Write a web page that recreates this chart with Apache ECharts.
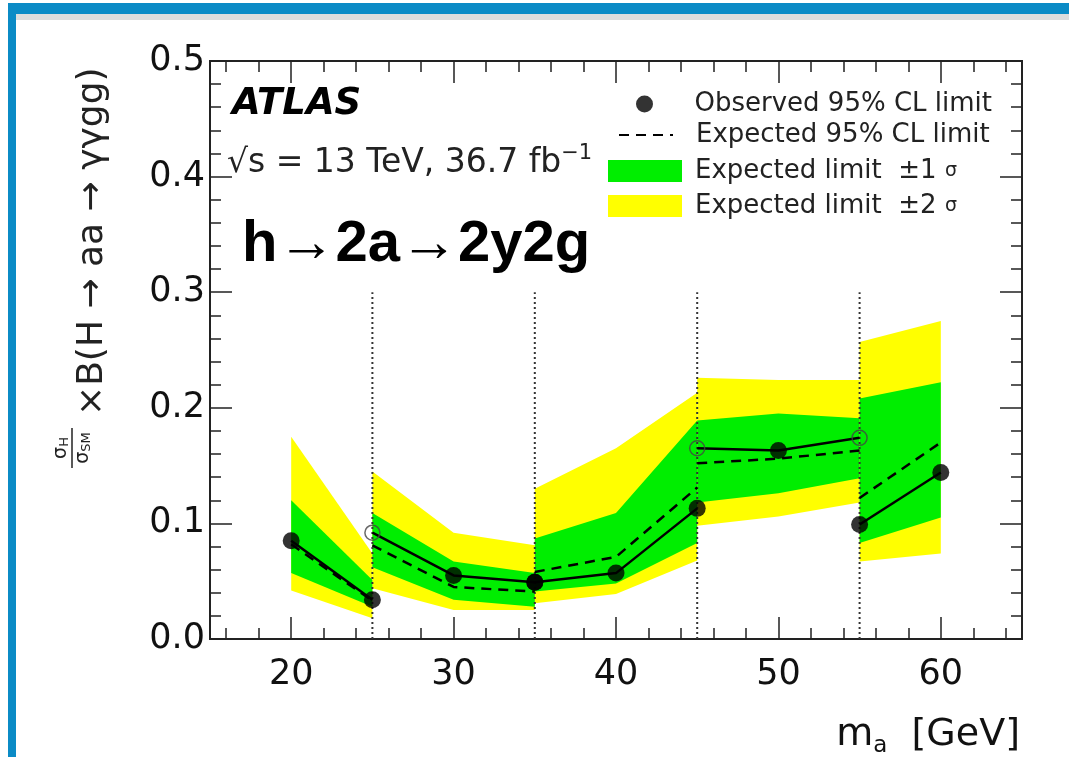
<!DOCTYPE html>
<html>
<head>
<meta charset="utf-8">
<script src="https://cdn.jsdelivr.net/npm/echarts@6/dist/echarts.min.js"></script>
<style>
  html, body { margin: 0; padding: 0; background: #fff; }
  #chart { width: 1069px; height: 757px; }
</style>
</head>
<body>
<div id="chart"></div>
<script>
  // mass points of each fit range, m_a in GeV
  const segMass = [[20, 25], [25, 30, 35], [35, 40, 45], [45, 50, 55], [55, 60]];
  const observed = [[0.085, 0.034], [0.092, 0.055, 0.049], [0.049, 0.057, 0.113], [0.165, 0.163, 0.174], [0.099, 0.144]];
  const obsOpen = [[0, 0], [1, 0, 0], [0, 0, 0], [1, 0, 1], [0, 0]];
  const expected = [[0.082, 0.033], [0.081, 0.045, 0.041], [0.058, 0.071, 0.131], [0.152, 0.156, 0.163], [0.122, 0.170]];
  const sig1Lo = [[0.057, 0.028], [0.062, 0.034, 0.028], [0.041, 0.048, 0.083], [0.118, 0.126, 0.139], [0.083, 0.105]];
  const sig1Hi = [[0.120, 0.051], [0.109, 0.067, 0.057], [0.087, 0.109, 0.189], [0.189, 0.195, 0.191], [0.208, 0.222]];
  const sig2Lo = [[0.042, 0.018], [0.044, 0.025, 0.025], [0.031, 0.039, 0.068], [0.098, 0.106, 0.118], [0.067, 0.074]];
  const sig2Hi = [[0.175, 0.074], [0.145, 0.092, 0.081], [0.130, 0.165, 0.213], [0.226, 0.224, 0.224], [0.257, 0.275]];
  const boundaries = [25, 35, 45, 55];
  const boundaryTop = 0.3;
  const xMajor = [20, 30, 40, 50, 60];
  const xMinor = [16, 18, 22, 24, 26, 28, 32, 34, 36, 38, 42, 44, 46, 48, 52, 54, 56, 58, 62, 64];
  const names = ['Observed 95% CL limit', 'Expected 95% CL limit', 'Expected limit  ±1 σ', 'Expected limit  ±2 σ'];

  const FONT = 'DejaVu Sans';

  function band(name, lo, hi, color) {
    return {
      name: name,
      type: 'custom',
      z: 1,
      itemStyle: { color: color },
      data: segMass.map(ms => [ms[0], 0]),
      renderItem: function (params, api) {
        let i = params.dataIndex;
        let ms = segMass[i];
        let top = ms.map((m, k) => api.coord([m, hi[i][k]]));
        let bot = ms.map((m, k) => api.coord([m, lo[i][k]])).reverse();
        return {
          type: 'polygon',
          shape: { points: top.concat(bot) },
          style: { fill: color }
        };
      }
    };
  }

  let series = [];
  series.push(band(names[3], sig2Lo, sig2Hi, '#ffff00'));
  series.push(band(names[2], sig1Lo, sig1Hi, '#00ee00'));

  boundaries.forEach(b => {
    series.push({
      type: 'line', z: 3, symbol: 'none', silent: true,
      data: [[b, 0], [b, boundaryTop]],
      lineStyle: { color: '#333', width: 2, type: [2, 3] }
    });
  });

  segMass.forEach((ms, i) => {
    series.push({
      name: i === 0 ? names[1] : undefined,
      type: 'line', z: 4, symbol: 'none',
      itemStyle: { color: '#000' },
      data: ms.map((m, k) => [m, expected[i][k]]),
      lineStyle: { color: '#000', width: 2.5, type: [10, 7] }
    });
    series.push({
      type: 'line', z: 5, symbol: 'none',
      data: ms.map((m, k) => [m, observed[i][k]]),
      lineStyle: { color: '#000', width: 2.5 }
    });
  });

  let filled = [], hollow = [];
  segMass.forEach((ms, i) => {
    ms.forEach((m, k) => {
      (obsOpen[i][k] ? hollow : filled).push([m, observed[i][k]]);
    });
  });
  series.push({
    name: names[0], type: 'scatter', z: 6, symbol: 'circle', symbolSize: 17,
    itemStyle: { color: '#000' }, data: filled
  });
  series.push({
    type: 'scatter', z: 6, symbol: 'circle', symbolSize: 15,
    itemStyle: { color: 'transparent', borderColor: '#444', borderWidth: 1.5 }, data: hollow
  });

  // two axes per side: one for the long ticks (and labels), one for the short ones
  function xAx(pos, ticks, len, labels) {
    return {
      type: 'value', min: 15, max: 65, position: pos,
      axisLine: { onZero: false, lineStyle: { color: '#222', width: 2 } },
      axisTick: { inside: true, length: len, customValues: ticks, lineStyle: { color: '#222', width: 1.5 } },
      axisLabel: {
        show: labels, fontSize: 35, color: '#111', margin: 18, fontFamily: FONT,
        customValues: xMajor
      },
      splitLine: { show: false }
    };
  }
  function yAx(pos) {
    return {
      type: 'value', min: 0, max: 0.5, interval: 0.1, position: pos,
      axisLine: { show: true, onZero: false, lineStyle: { color: '#222', width: 2 } },
      axisTick: { show: true, inside: true, length: 22, lineStyle: { color: '#222', width: 1.5 } },
      minorTick: { show: true, splitNumber: 5, length: 11, lineStyle: { color: '#222', width: 1.5 } },
      axisLabel: {
        show: pos === 'left', fontSize: 35, color: '#111', margin: 5, fontFamily: FONT,
        formatter: v => v.toFixed(1)
      },
      splitLine: { show: false }
    };
  }

  function leg(name, icon, top, left, w, h, pad) {
    let item = { name: name };
    if (icon) item.icon = icon;
    else item.itemStyle = { opacity: 0 };
    return {
      data: [item],
      left: left, top: top, padding: 0,
      itemWidth: w, itemHeight: h, selectedMode: false,
      formatter: function (n) {
        return n.indexOf('σ') > 0 ? '{a|' + n.slice(0, -1) + '}{s|σ}' : '{a|' + n + '}';
      },
      textStyle: {
        padding: [0, 0, 0, pad],
        rich: {
          a: { fontSize: 26, fontFamily: FONT, color: '#222', lineHeight: 30 },
          s: { fontSize: 19, fontFamily: FONT, color: '#222', lineHeight: 30 }
        }
      }
    };
  }

  let myChart = echarts.init(document.getElementById('chart'));
  let option = {
    backgroundColor: '#fff',
    animation: false,
    grid: { left: 210, top: 61, width: 812, height: 578 },
    xAxis: [
      xAx('bottom', xMajor, 22, true), xAx('bottom', xMinor, 11, false),
      xAx('top', xMajor, 22, false), xAx('top', xMinor, 11, false)
    ],
    yAxis: [yAx('left'), yAx('right')],
    legend: [
      leg(names[0], 'circle', 91, 636, 74, 17, 8),
      leg(names[1], null, 122, 618, 54, 20, 18),
      leg(names[2], 'rect', 158, 608, 74, 22, 8),
      leg(names[3], 'rect', 193, 608, 74, 22, 8)
    ],
    graphic: [
      { type: 'rect', shape: { x: 8, y: 14, width: 1061, height: 6 }, style: { fill: '#ddd' }, z: 0 },
      { type: 'rect', shape: { x: 8, y: 3, width: 1061, height: 11 }, style: { fill: '#0b8bc6' }, z: 1 },
      { type: 'rect', shape: { x: 8, y: 3, width: 8, height: 754 }, style: { fill: '#0b8bc6' }, z: 1 },
      {
        type: 'text', x: 232, y: 104,
        style: { text: 'ATLAS', font: 'italic bold 37px "DejaVu Sans"', fill: '#000', verticalAlign: 'middle' }
      },
      {
        type: 'text', x: 227, y: 163,
        style: {
          text: '{t|√s = 13 TeV, 36.7 fb}{p|−1}', verticalAlign: 'middle',
          rich: {
            t: { fontSize: 33, fontFamily: FONT, fill: '#222' },
            p: { fontSize: 21, fontFamily: FONT, fill: '#222', padding: [0, 0, 18, 0] }
          }
        }
      },
      {
        type: 'text', x: 242, y: 245,
        style: {
          text: '{b|h}{r|→}{b|2a}{r|→}{b|2y2g}', verticalAlign: 'middle',
          rich: {
            b: { fontSize: 58, fontWeight: 'bold', fontFamily: 'Liberation Sans', fill: '#000' },
            r: { fontSize: 58, fontFamily: 'Liberation Sans', fill: '#000' }
          }
        }
      },
      {
        type: 'text', x: 1020, y: 735,
        style: {
          text: '{m|m}{s|a}{m|  [GeV]}', align: 'right', verticalAlign: 'middle',
          rich: {
            m: { fontSize: 38, fontFamily: FONT, fill: '#111' },
            s: { fontSize: 23, fontFamily: FONT, fill: '#111', padding: [22, 0, 0, 0] }
          }
        }
      },
      {
        type: 'group', x: 72, y: 448, rotation: Math.PI / 2,
        children: [
          {
            type: 'text', x: 0, y: -11,
            style: {
              text: '{a|σ}{b|H}', align: 'center', verticalAlign: 'middle',
              rich: { a: { fontSize: 19, fontFamily: FONT, fill: '#222' }, b: { fontSize: 13, fontFamily: FONT, fill: '#222', padding: [7, 0, 0, 0] } }
            }
          },
          { type: 'line', shape: { x1: -20, y1: 0, x2: 20, y2: 0 }, style: { stroke: '#222', lineWidth: 1.5 } },
          {
            type: 'text', x: 0, y: 11,
            style: {
              text: '{a|σ}{b|SM}', align: 'center', verticalAlign: 'middle',
              rich: { a: { fontSize: 19, fontFamily: FONT, fill: '#222' }, b: { fontSize: 13, fontFamily: FONT, fill: '#222', padding: [7, 0, 0, 0] } }
            }
          },
          {
            type: 'text', x: 32, y: 21,
            style: { text: '×B(H → aa → γγgg)', font: '36px "DejaVu Sans"', fill: '#222', verticalAlign: 'middle' }
          }
        ]
      }
    ],
    series: series
  };

  myChart.setOption(option);
  window.addEventListener('resize', function () {
    myChart.resize()
  });
</script>
</body>
</html>
